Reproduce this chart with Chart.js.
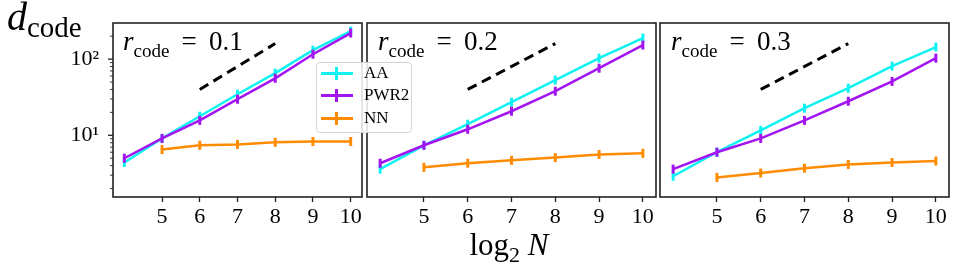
<!DOCTYPE html>
<html><head><meta charset="utf-8">
<script src="https://cdn.jsdelivr.net/npm/chart.js@4.4.1/dist/chart.umd.min.js"></script>
<style>
body{margin:0;background:#fff;width:975px;height:270px;overflow:hidden;position:relative;font-family:'Liberation Serif',serif;}
canvas{position:absolute;left:0;top:0;}
.t{position:absolute;white-space:nowrap;line-height:1;color:#000;font-family:'Liberation Serif',serif;}
.sub{position:relative;}
#legend{position:absolute;left:316px;top:62px;width:96px;height:71px;border:1px solid #d4d4d4;border-radius:4px;background:rgba(255,255,255,0.85);box-sizing:border-box;}
.row{position:absolute;left:0;width:100%;height:20px;}
.sw{position:absolute;left:4px;width:32px;height:2.5px;top:9px;}
.tk{position:absolute;left:18px;width:2.5px;height:13px;top:3.5px;}
.lb{position:absolute;left:47px;top:0;font-size:17px;line-height:20px;}
</style></head><body>
<canvas id="c0" width="975" height="270"></canvas>
<canvas id="c1" width="975" height="270"></canvas>
<canvas id="c2" width="975" height="270"></canvas>
<div class="t" style="left:7px;top:-3px;font-size:40px"><i>d</i><span class="sub" style="font-size:29px;top:7px">code</span></div>
<div class="t" id="p0" style="left:123px;top:28px;font-size:27px"></div>
<div class="t" id="p1" style="left:378px;top:28px;font-size:27px"></div>
<div class="t" id="p2" style="left:671px;top:28px;font-size:27px"></div>
<div class="t" style="left:509px;top:229px;font-size:31px;transform:translateX(-50%)">log<span class="sub" style="font-size:22px;top:7px">2</span> <i>N</i></div>
<div id="legend"></div>
<script>
// ---- data ----
const xValues = [4, 5, 6, 7, 8, 9, 10];
const xTicks = [5, 6, 7, 8, 9, 10];
const rcodes = ['0.1', '0.2', '0.3'];
const seriesNames = ['AA', 'PWR2', 'NN'];
const seriesColors = ['#10F2F2', '#A315F0', '#FF8C00'];
// panel r_code = 0.1
const aa1  = [4.4, 9.1, 17.8, 34.6, 65.5, 131, 233];
const pwr1 = [5.0, 9.1, 15.7, 29.8, 56, 116, 220];
const nn1  = [null, 6.5, 7.4, 7.6, 8.1, 8.3, 8.3];
// panel r_code = 0.2
const aa2  = [3.6, 7.4, 14.0, 27.2, 53, 103, 189];
const pwr2 = [4.3, 7.4, 12.0, 20.7, 37.9, 76, 153];
const nn2  = [null, 3.8, 4.3, 4.7, 5.1, 5.6, 5.8];
// panel r_code = 0.3
const aa3  = [2.9, 6.0, 11.6, 22.7, 41.5, 81, 144];
const pwr3 = [3.6, 6.0, 9.1, 15.7, 28, 51, 103];
const nn3  = [null, 2.8, 3.2, 3.7, 4.15, 4.4, 4.6];
// guide line (slope 1 in N)
const guideX = [6, 8];
const guideY = [40, 160];
// y ticks
const yMajor = [10, 100];
const yMajorLabels = ['10\u00B9', '10\u00B2'];
const yMinor = [2, 3, 4, 5, 6, 7, 8, 9, 20, 30, 40, 50, 60, 70, 80, 90, 200];
const xRange = [3.7, 10.3];
const yRange = [1.55, 298];

const panels = [
  {aa: aa1, pwr: pwr1, nn: nn1, left: 113, right: 362, showY: true},
  {aa: aa2, pwr: pwr2, nn: nn2, left: 367, right: 656, showY: false},
  {aa: aa3, pwr: pwr3, nn: nn3, left: 660, right: 949, showY: false}
];
const TOP = 23, XAXIS_H = 73, W = 975, YAXIS_W = 60;

const toPts = arr => xValues.map((x, i) => ({x: x, y: arr[i]}));

const framePlugin = {
  id: 'frame',
  afterDraw(chart) {
    const {ctx, chartArea: a} = chart;
    ctx.save();
    const ys = chart.scales.y;
    if (chart.options.plugins.frame.showY) {
      ctx.strokeStyle = '#222';
      ys.ticks.forEach(t => {
        const py = ys.getPixelForValue(t.value);
        const major = yMajor.includes(t.value);
        ctx.lineWidth = major ? 1.3 : 0.9;
        ctx.beginPath();
        ctx.moveTo(a.left - (major ? 5 : 3), py);
        ctx.lineTo(a.left, py);
        ctx.stroke();
      });
    }
    ctx.strokeStyle = '#222';
    ctx.lineWidth = 1.6;
    ctx.strokeRect(a.left, a.top, a.right - a.left, a.bottom - a.top);
    ctx.restore();
  }
};

panels.forEach((p, i) => {
  document.getElementById('p' + i).innerHTML =
    '<i>r</i><span class="sub" style="font-size:19px;top:7px">code</span>&thinsp; = &thinsp;' + rcodes[i];
  const mk = (arr, k, ord) => ({
    label: seriesNames[k], data: toPts(arr), borderColor: seriesColors[k],
    backgroundColor: seriesColors[k], borderWidth: 2.5, pointStyle: 'line',
    pointRotation: 90, pointRadius: 4.5, pointBorderWidth: 3,
    pointBorderColor: seriesColors[k], order: ord, spanGaps: false, tension: 0
  });
  new Chart(document.getElementById('c' + i), {
    type: 'line',
    data: {
      datasets: [
        mk(p.aa, 0, 4), mk(p.pwr, 1, 3), mk(p.nn, 2, 2),
        {label: 'guide', data: guideX.map((x, j) => ({x: x, y: guideY[j]})),
         borderColor: '#000', borderWidth: 3, borderDash: [10, 6], pointRadius: 0, order: 1}
      ]
    },
    options: {
      responsive: false, animation: false, devicePixelRatio: 1,
      events: [],
      layout: {padding: {left: p.showY ? p.left - YAXIS_W : p.left, right: W - p.right, top: TOP, bottom: 0}},
      plugins: {legend: {display: false}, tooltip: {enabled: false}, frame: {showY: p.showY}},
      scales: {
        x: {
          type: 'linear', min: xRange[0], max: xRange[1],
          afterBuildTicks: s => { s.ticks = xTicks.map(v => ({value: v})); },
          afterFit: s => { s.height = XAXIS_H; },
          ticks: {callback: v => String(v), color: '#000', padding: 2, maxRotation: 0, autoSkip: false,
                  font: {family: 'Liberation Serif', size: 22}},
          grid: {drawOnChartArea: false, drawTicks: true, tickLength: 5, tickColor: '#222', tickWidth: 1.3},
          border: {display: false}
        },
        y: {
          type: 'logarithmic', min: yRange[0], max: yRange[1], display: p.showY,
          afterBuildTicks: s => { s.ticks = yMinor.concat(yMajor).sort((a, b) => a - b).map(v => ({value: v, major: yMajor.includes(v)})); },
          afterFit: s => { s.width = p.showY ? YAXIS_W : 0; },
          ticks: {callback: v => { const k = yMajor.indexOf(v); return k >= 0 ? yMajorLabels[k] : ''; },
                  color: '#000', padding: 9, autoSkip: false, font: {family: 'Liberation Serif', size: 22}},
          grid: {drawOnChartArea: false, drawTicks: true, tickLength: 5, tickColor: 'rgba(0,0,0,0)'},
          border: {display: false}
        }
      }
    },
    plugins: [framePlugin]
  });
});

// legend
const lg = document.getElementById('legend');
const rowTops = [0, 22, 45];
seriesNames.forEach((n, k) => {
  const r = document.createElement('div');
  r.className = 'row';
  r.style.top = rowTops[k] + 'px';
  r.innerHTML = '<div class="sw" style="background:' + seriesColors[k] + '"></div>' +
    '<div class="tk" style="background:' + seriesColors[k] + '"></div>' +
    '<div class="lb">' + n + '</div>';
  lg.appendChild(r);
});
</script>
</body></html>
